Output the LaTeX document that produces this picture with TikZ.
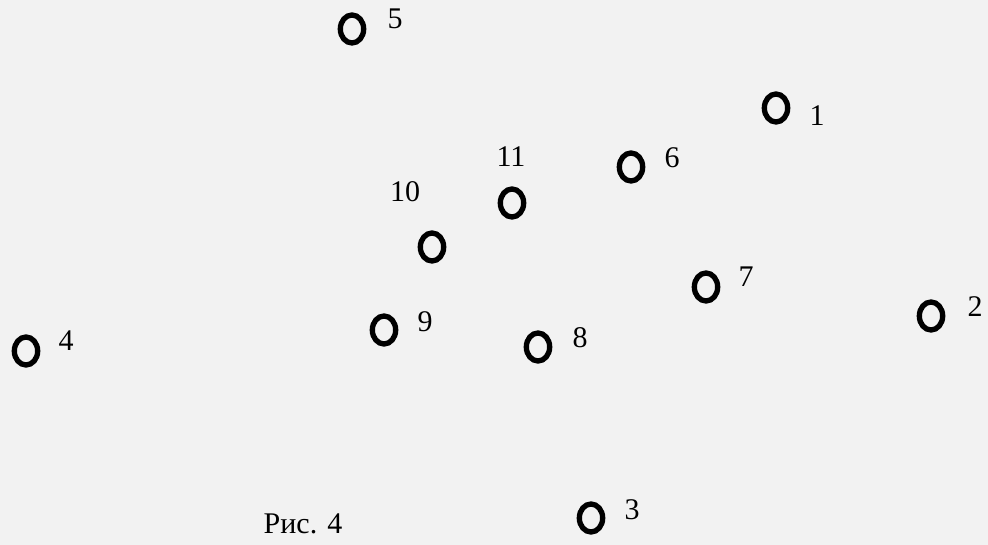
\documentclass[tikz,border=0pt]{standalone}
\usepackage{fontspec}
\setmainfont{Liberation Serif}
\definecolor{bggray}{RGB}{242,242,242}
\usetikzlibrary{shapes.geometric}

\tikzset{
  pnt/.style={ellipse, draw=black, line width=4pt, inner sep=0pt,
    minimum width=17.5pt, minimum height=21pt},
  num/.style={inner sep=0pt, font=\fontsize{22.5}{26}\selectfont}
}

\begin{document}
\begin{tikzpicture}[x=0.75pt, y=-0.75pt]
  % Background
  \fill[bggray] (0,0) rectangle (988,545);
  \useasboundingbox (0,0) rectangle (988,545);

  % Points
  \node[pnt] (p1) at (776,108) {};
  \node[pnt] (p2) at (931,316) {};
  \node[pnt] (p3) at (591,518) {};
  \node[pnt] (p4) at (26,351) {};
  \node[pnt] (p5) at (352,29) {};
  \node[pnt] (p6) at (631,167) {};
  \node[pnt] (p7) at (706,287) {};
  \node[pnt] (p8) at (538,347) {};
  \node[pnt] (p9) at (384,330) {};
  \node[pnt] (p10) at (432,247) {};
  \node[pnt] (p11) at (512,203) {};

  % Numbers
  \node[num] (n1) at (817,116) {1};
  \node[num] (n2) at (975,307) {2};
  \node[num] (n3) at (632,510) {3};
  \node[num] (n4) at (66,341) {4};
  \node[num] (n5) at (395,19) {5};
  \node[num] (n6) at (672,158) {6};
  \node[num] (n7) at (746,277) {7};
  \node[num] (n8) at (580,338) {8};
  \node[num] (n9) at (425,322) {9};
  \node[num] (n10) at (405,192) {10};
  \node[num] (n11) at (511,157) {11};

  % Caption
  \node[num] (cap) at (303,524) {Рис. 4};
\end{tikzpicture}
\end{document}
